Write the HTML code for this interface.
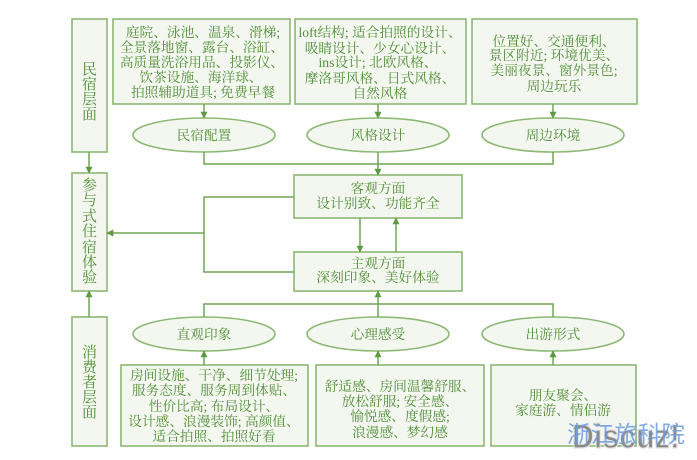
<!DOCTYPE html>
<html><head><meta charset="utf-8">
<style>
html,body{margin:0;padding:0;background:#fff;}
svg{display:block;}
text{font-family:"Liberation Serif","Noto Serif CJK SC",serif;fill:#4f8f36;}
text.dz{font-family:"Liberation Sans",sans-serif;fill:#8a8a8a;stroke:#e6e6e6;stroke-width:1.2;}
text.wm{font-family:"Liberation Sans","Noto Sans CJK SC",sans-serif;fill:#6d9de0;}
</style></head>
<body>
<svg width="697" height="460" viewBox="0 0 697 460" xmlns="http://www.w3.org/2000/svg">
<defs>
<marker id="a" viewBox="0 0 10 10" refX="9" refY="5" markerWidth="7" markerHeight="7" orient="auto" markerUnits="userSpaceOnUse">
<path d="M0,0 L10,5 L0,10 z" fill="#5f9a45"/>
</marker>
</defs>
<g fill="#f4f7f0" stroke="#8bb872" stroke-width="1.6">
<rect x="72" y="19" width="35" height="133"/>
<rect x="72" y="173" width="35" height="118"/>
<rect x="72" y="317" width="35" height="129"/>
<rect x="113" y="19" width="177" height="85"/>
<rect x="295" y="19" width="171" height="85"/>
<rect x="472" y="19" width="165" height="85"/>
<rect x="294" y="175" width="168" height="43"/>
<rect x="294" y="252" width="168" height="39"/>
<rect x="121" y="365" width="187" height="81"/>
<rect x="316" y="365" width="168" height="81"/>
<rect x="491" y="365" width="145" height="81"/>
<ellipse cx="204" cy="135" rx="71" ry="17"/>
<ellipse cx="378" cy="135" rx="71" ry="17"/>
<ellipse cx="553" cy="135" rx="71" ry="17"/>
<ellipse cx="204" cy="334" rx="71" ry="17"/>
<ellipse cx="378" cy="334" rx="71" ry="17"/>
<ellipse cx="553" cy="334" rx="71" ry="17"/>
</g>
<g stroke="#6fa555" stroke-width="1.5" fill="none">
<line x1="204" y1="104" x2="204" y2="118" marker-end="url(#a)"/>
<line x1="378" y1="104" x2="378" y2="118" marker-end="url(#a)"/>
<line x1="553" y1="104" x2="553" y2="118" marker-end="url(#a)"/>
<polyline points="204,152 204,164 553,164 553,152"/>
<line x1="378" y1="152" x2="378" y2="175" marker-end="url(#a)"/>
<line x1="89" y1="152" x2="89" y2="173" marker-end="url(#a)"/>
<line x1="89" y1="317" x2="89" y2="291" marker-end="url(#a)"/>
<line x1="360" y1="218" x2="360" y2="252" marker-end="url(#a)"/>
<line x1="396" y1="252" x2="396" y2="218" marker-end="url(#a)"/>
<polyline points="294,197 204,197 204,272 294,272"/>
<line x1="204" y1="233" x2="107" y2="233" marker-end="url(#a)"/>
<line x1="378" y1="304" x2="378" y2="291" marker-end="url(#a)"/>
<polyline points="204,317 204,304 553,304 553,317"/>
<line x1="378" y1="304" x2="378" y2="317"/>
<line x1="204" y1="365" x2="204" y2="351" marker-end="url(#a)"/>
<line x1="378" y1="365" x2="378" y2="351" marker-end="url(#a)"/>
<line x1="553" y1="365" x2="553" y2="351" marker-end="url(#a)"/>
</g>
<g font-size="15" text-anchor="middle">
<text x="89.5" y="74">民</text><text x="89.5" y="89">宿</text><text x="89.5" y="104">层</text><text x="89.5" y="119">面</text>
<text x="89.5" y="190">参</text><text x="89.5" y="205">与</text><text x="89.5" y="221">式</text><text x="89.5" y="236">住</text><text x="89.5" y="252">宿</text><text x="89.5" y="267">体</text><text x="89.5" y="282">验</text>
<text x="89.5" y="357">消</text><text x="89.5" y="372">费</text><text x="89.5" y="387">者</text><text x="89.5" y="402">层</text><text x="89.5" y="417">面</text>
</g>
<g font-size="13.7" text-anchor="middle">
<text x="203" y="37">庭院、泳池、温泉、滑梯;</text>
<text x="202" y="52">全景落地窗、露台、浴缸、</text>
<text x="202" y="67">高质量洗浴用品、投影仪、</text>
<text x="201" y="82">饮茶设施、海洋球、</text>
<text x="203" y="97">拍照辅助道具; 免费早餐</text>
<text x="380" y="37">loft结构; 适合拍照的设计、</text>
<text x="380" y="53">吸睛设计、少女心设计、</text>
<text x="378" y="67">ins设计; 北欧风格、</text>
<text x="380" y="83">摩洛哥风格、日式风格、</text>
<text x="380" y="98">自然风格</text>
<text x="554" y="46">位置好、交通便利、</text>
<text x="554" y="60">景区附近; 环境优美、</text>
<text x="554" y="75">美丽夜景、窗外景色;</text>
<text x="554" y="91">周边玩乐</text>
<text x="204" y="140">民宿配置</text>
<text x="378" y="140">风格设计</text>
<text x="553" y="140">周边环境</text>
<text x="378" y="193">客观方面</text>
<text x="378" y="208">设计别致、功能齐全</text>
<text x="378" y="268">主观方面</text>
<text x="378" y="282">深刻印象、美好体验</text>
<text x="204" y="339">直观印象</text>
<text x="378" y="339">心理感受</text>
<text x="553" y="339">出游形式</text>
<text x="214" y="380">房间设施、干净、细节处理;</text>
<text x="214" y="395">服务态度、服务周到体贴、</text>
<text x="214" y="411">性价比高; 布局设计、</text>
<text x="214" y="426">设计感、浪漫装饰; 高颜值、</text>
<text x="214" y="441">适合拍照、拍照好看</text>
<text x="400" y="391">舒适感、房间温馨舒服、</text>
<text x="400" y="406">放松舒服; 安全感、</text>
<text x="400" y="421">愉悦感、度假感;</text>
<text x="400" y="437">浪漫感、梦幻感</text>
<text x="563" y="400">朋友聚会、</text>
<text x="563" y="415">家庭游、情侣游</text>
</g>
<text class="dz" x="572" y="448" font-size="34" font-weight="bold" textLength="108" lengthAdjust="spacingAndGlyphs">Discuz!</text>
<text class="wm" x="567" y="442" font-size="23" textLength="118" lengthAdjust="spacingAndGlyphs" opacity="0.85">浙江旅科院</text>
</svg>
</body></html>
